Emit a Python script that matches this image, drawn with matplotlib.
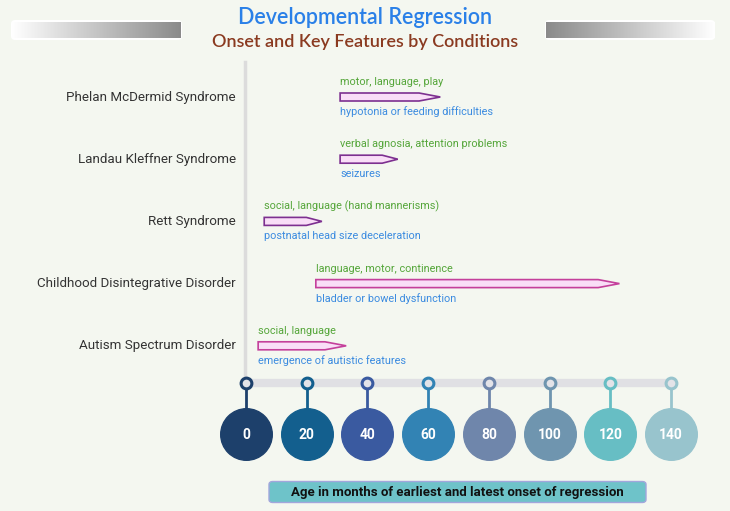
import numpy as np
import matplotlib.pyplot as plt
from matplotlib.patches import Polygon, FancyBboxPatch
from matplotlib.colors import LinearSegmentedColormap

conditions = ['Phelan McDermid Syndrome', 'Landau Kleffner Syndrome', 'Rett Syndrome',
              'Childhood Disintegrative Disorder', 'Autism Spectrum Disorder']
onset_start = [31, 31, 6, 23, 4]
onset_end = [64, 50, 25, 123, 33]
features_top = ['motor, language, play', 'verbal agnosia, attention problems',
                'social, language (hand mannerisms)', 'language, motor, continence', 'social, language']
features_bottom = ['hypotonia or feeding difficulties', 'seizures', 'postnatal head size deceleration',
                   'bladder or bowel dysfunction', 'emergence of autistic features']
ticks = [0, 20, 40, 60, 80, 100, 120, 140]
tick_colors = ['#1d406b', '#135f8e', '#3a5aa0', '#3283b4', '#6f86ab', '#6f95af', '#67bec4', '#98c4cd']
edge_colors = ['#7d3090', '#7d3090', '#7d3090', '#c4409b', '#c4409b']

W, H = 730, 511
bg = '#f4f7f0'
x0, scale = 246, 3.036  # pixel of month 0, pixels per month


def px(xp):
    return (xp - x0) / scale


fig = plt.figure(figsize=(W / 100, H / 100), dpi=100, facecolor=bg)
ax = fig.add_axes([0, 0, 1, 1])
ax.set_facecolor(bg)
ax.set_xlim(px(0), px(W))
ax.set_ylim(H, 0)
ax.axis('off')

# vertical guide line and timeline track
ax.plot([px(245), px(245)], [62, 383], color='#dcdcdc', lw=2.5, zorder=1)
ax.plot([ticks[0], ticks[-1]], [383, 383], color='#e0e0e4', lw=6, solid_capstyle='round', zorder=1)

row_y = [97 + 62.2 * i for i in range(len(conditions))]
for i, name in enumerate(conditions):
    y = row_y[i]
    ax.text(px(236), y, name, ha='right', va='center', fontsize=9.6, family='Roboto', color='#333333')
    s, e = onset_start[i], onset_end[i]
    taper = min(7.0, 0.27 * (e - s))
    hh = 4
    verts = [(s, y - hh), (e - taper, y - hh), (e, y), (e - taper, y + hh), (s, y + hh)]
    ax.add_patch(Polygon(verts, closed=True, facecolor='#f9def7', edgecolor=edge_colors[i], lw=1.2, zorder=3))
    ax.text(s, y - 15, features_top[i], ha='left', va='center', fontsize=7.8, family='Roboto', color='#55a63a')
    ax.text(s, y + 15, features_bottom[i], ha='left', va='center', fontsize=7.8, family='Roboto', color='#3b8be0')

# tick circles
for t, c in zip(ticks, tick_colors):
    ax.plot([t, t], [383, 420], color=c, lw=2, zorder=2)
    ax.scatter([t], [383], s=60, facecolor='#e3e3e8', edgecolor=c, linewidth=2.2, zorder=4)
    ax.scatter([t], [434], s=1380, facecolor=c, edgecolor=c, linewidth=1, zorder=4)
    ax.text(t, 435, str(t), ha='center', va='center', fontsize=10, fontweight='bold',
            family='Roboto', color='white', zorder=5)

# axis caption box
ax.add_patch(FancyBboxPatch((px(269), 481.5), px(646) - px(269), 21, boxstyle='round,pad=0,rounding_size=1.2',
                            facecolor='#6ec3c9', edgecolor='#a2a6dc', lw=1, mutation_aspect=2.5))
ax.text(px(457), 492.5, 'Age in months of earliest and latest onset of regression', ha='center', va='center',
        fontsize=9.5, fontweight='bold', family='Roboto', color='#111111')

# titles
fig.text(365 / W, 1 - 17 / H, 'Developmental Regression', ha='center', va='center', fontsize=15.5,
         family='Lato', fontweight='semibold', color='#2a80e8')
fig.text(365 / W, 1 - 42 / H, 'Onset and Key Features by Conditions', ha='center', va='center', fontsize=13,
         family='Lato', fontweight='semibold', color='#8a3a20')

# decorative gradient bars
cmap = LinearSegmentedColormap.from_list('bar', ['#ffffff', '#8a8a8a'])
grad = np.linspace(0, 1, 256).reshape(1, -1)
for (l, r), g in [((12, 181), grad), ((546, 714), grad[:, ::-1])]:
    ax.add_patch(FancyBboxPatch((px(l - 1), 20), px(r + 1) - px(l - 1), 20,
                                boxstyle='round,pad=0,rounding_size=1.5', mutation_aspect=2.5,
                                facecolor='white', edgecolor='none', zorder=1))
    bax = fig.add_axes([l / W, 1 - 38 / H, (r - l) / W, 16 / H])
    bax.imshow(g, aspect='auto', cmap=cmap, extent=[0, 1, 0, 1])
    bax.axis('off')

fig.savefig('out.png', dpi=100, facecolor=bg)
